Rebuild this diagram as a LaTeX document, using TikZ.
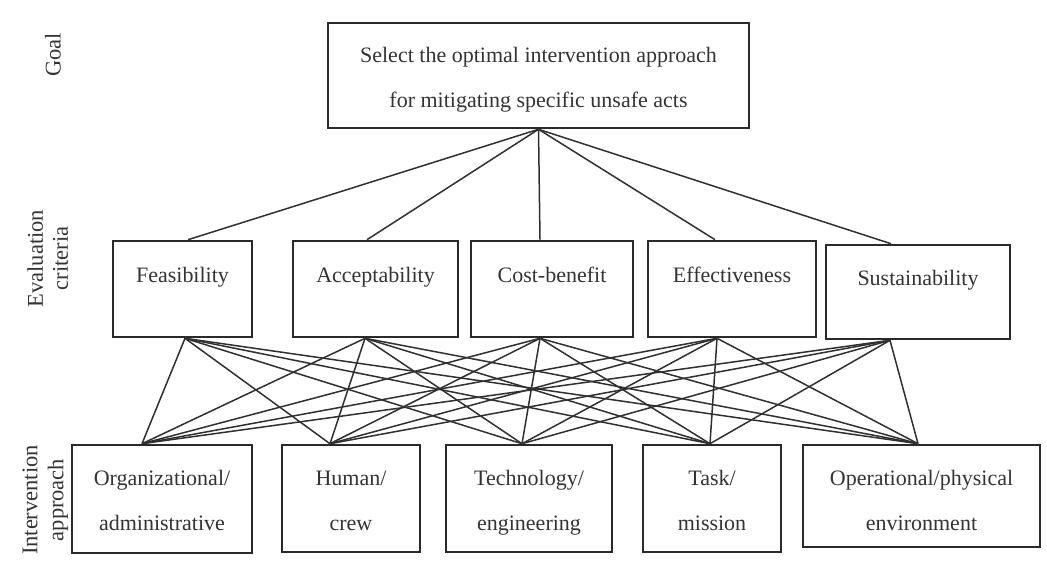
\documentclass[tikz,border=0pt]{standalone}
\usepackage{fontspec}
\setmainfont{Liberation Serif}
\definecolor{boxgray}{HTML}{2A2A2A}
\definecolor{linegray}{HTML}{303030}
\definecolor{textgray}{HTML}{333333}
% fixed line height/depth so multi-line labels sit predictably
\newcommand\lnstrut{\rule[-5pt]{0pt}{16pt}}
\begin{document}
\begin{tikzpicture}[x=1pt,y=-1pt,
  box/.style={draw=boxgray, line width=2.6pt, rectangle, inner sep=0pt},
  txt/.style={text=textgray, inner sep=0pt, align=center,
              font=\fontsize{22}{45}\selectfont},
  side/.style={text=textgray, inner sep=0pt, align=center, rotate=90},
  link/.style={draw=linegray, line width=1.5pt},
]
\useasboundingbox (0,0) rectangle (1047,574);

% level labels
\node[side, font=\fontsize{22.5}{25}\selectfont] (lgoal) at (53,55) {Goal};
\node[side, font=\fontsize{22.5}{25}\selectfont] (lcrit) at (50,258.5)
  {\lnstrut Evaluation\\criteria\lnstrut};
\node[side, font=\fontsize{22.5}{26}\selectfont] (lappr) at (45.5,500)
  {\lnstrut Intervention\\approach\lnstrut};

% goal
\node[box, minimum width=421pt, minimum height=105pt] (goal) at (538.5,75.5) {};
\node[txt, anchor=north] (goaltxt) at (538.5,47)
  {\lnstrut Select the optimal intervention approach\\for mitigating specific unsafe acts\lnstrut};

% evaluation criteria
\node[box, minimum width=139pt, minimum height=96pt] (feas) at (182.5,289) {};
\node[box, minimum width=165pt, minimum height=96pt] (acc)  at (375.5,289) {};
\node[box, minimum width=162pt, minimum height=96pt] (cost) at (552,289) {};
\node[box, minimum width=168pt, minimum height=96pt] (eff)  at (732,289) {};
\node[box, minimum width=184pt, minimum height=94pt] (sus)  at (918,292) {};

\node[txt, anchor=base] (feastxt) at (182.5,282) {Feasibility};
\node[txt, anchor=base] (acctxt)  at (375.5,282) {Acceptability};
\node[txt, anchor=base] (costtxt) at (552,282) {Cost-benefit};
\node[txt, anchor=base] (efftxt)  at (732,282) {Effectiveness};
\node[txt, anchor=base] (sustxt)  at (918,285) {Sustainability};

% intervention approaches
\node[box, minimum width=180pt, minimum height=108pt] (org)  at (162,499) {};
\node[box, minimum width=138pt, minimum height=107pt] (hum)  at (351,498.5) {};
\node[box, minimum width=166pt, minimum height=107pt] (tech) at (529,498.5) {};
\node[box, minimum width=138pt, minimum height=107pt] (task) at (712,498.5) {};
\node[box, minimum width=237pt, minimum height=102pt] (oper) at (921.5,496) {};

\node[txt, anchor=north] (orgtxt)  at (162,470.5)   {\lnstrut Organizational/\\administrative\lnstrut};
\node[txt, anchor=north] (humtxt)  at (351,470.5)   {\lnstrut Human/\\crew\lnstrut};
\node[txt, anchor=north] (techtxt) at (529,470.5)   {\lnstrut Technology/\\engineering\lnstrut};
\node[txt, anchor=north] (tasktxt) at (712,470.5)   {\lnstrut Task/\\mission\lnstrut};
\node[txt, anchor=north] (opertxt) at (921.5,470.5) {\lnstrut Operational/physical\\environment\lnstrut};

% attachment points on the box edges
\coordinate (goalB) at (goal.south);
\coordinate (feasT) at ([xshift=5.5pt]feas.north);
\coordinate (accT)  at ([xshift=-8.5pt]acc.north);
\coordinate (costT) at ([xshift=-12pt]cost.north);
\coordinate (effT)  at ([xshift=-17pt]eff.north);
\coordinate (susT)  at ([xshift=-27pt]sus.north);
\coordinate (feasB) at ([xshift=2.5pt]feas.south);
\coordinate (accB)  at ([xshift=-10.5pt]acc.south);
\coordinate (costB) at ([xshift=-12pt]cost.south);
\coordinate (effB)  at ([xshift=-15pt]eff.south);
\coordinate (susB)  at ([xshift=-28pt]sus.south);
\coordinate (orgT)  at ([xshift=-20pt]org.north);
\coordinate (humT)  at ([xshift=-21pt]hum.north);
\coordinate (techT) at ([xshift=-7pt]tech.north);
\coordinate (taskT) at ([xshift=-2pt]task.north);
\coordinate (operT) at ([xshift=-3.5pt]oper.north);

% goal to every criterion
\foreach \c in {feas,acc,cost,eff,sus}
  \draw[link] (goalB) -- (\c T);

% every criterion to every approach
\foreach \c in {feas,acc,cost,eff,sus}
  \foreach \a in {org,hum,tech,task,oper}
    \draw[link] (\c B) -- (\a T);
\end{tikzpicture}
\end{document}
